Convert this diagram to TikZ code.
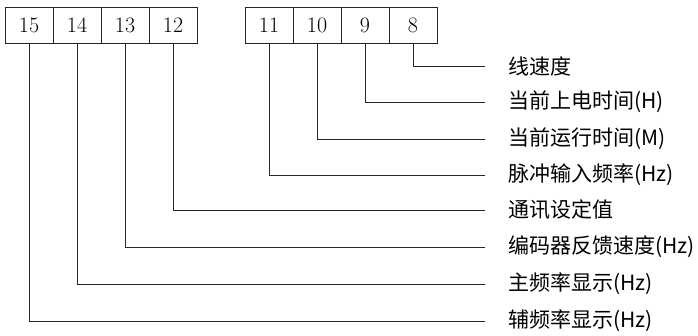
\documentclass[tikz,border=0pt]{standalone}
\usepackage{fontspec}
\newfontfamily\cjk{Noto Sans CJK SC}
\begin{document}
\begin{tikzpicture}[x=1pt,y=1pt,
  cell/.style={draw=black!85,line width=0.9pt,minimum width=48pt,minimum height=36pt,inner sep=0pt,font=\fontsize{22}{22}\selectfont},
  lead/.style={draw=black!85,line width=0.9pt},
  lab/.style={anchor=west,inner sep=0pt,font=\cjk\fontsize{21}{21}\selectfont}]
\useasboundingbox (0,0) rectangle (698,-336);
\node[cell] (b15) at (29,-25) {15};
\node[cell] (b14) at (77,-25) {14};
\node[cell] (b13) at (125,-25) {13};
\node[cell] (b12) at (173,-25) {12};
\node[cell] (b11) at (269,-25) {11};
\node[cell] (b10) at (317,-25) {10};
\node[cell] (b9) at (365,-25) {9};
\node[cell] (b8) at (413,-25) {8};
\coordinate (e8) at (485,-66);
\coordinate (e9) at (485,-102);
\coordinate (e10) at (485,-139);
\coordinate (e11) at (485,-175);
\coordinate (e12) at (485,-210);
\coordinate (e13) at (485,-247);
\coordinate (e14) at (485,-284);
\coordinate (e15) at (485,-321);
\foreach \i in {8,...,15} {\draw[lead] (b\i.south) |- (e\i);}
\node[lab] (t8) at ([xshift=23pt]e8) {线速度};
\node[lab] (t9) at ([xshift=23pt]e9) {当前上电时间(H)};
\node[lab] (t10) at ([xshift=23pt]e10) {当前运行时间(M)};
\node[lab] (t11) at ([xshift=23pt]e11) {脉冲输入频率(Hz)};
\node[lab] (t12) at ([xshift=23pt]e12) {通讯设定值};
\node[lab] (t13) at ([xshift=23pt]e13) {编码器反馈速度(Hz)};
\node[lab] (t14) at ([xshift=23pt]e14) {主频率显示(Hz)};
\node[lab] (t15) at ([xshift=23pt]e15) {辅频率显示(Hz)};
\end{tikzpicture}
\end{document}
